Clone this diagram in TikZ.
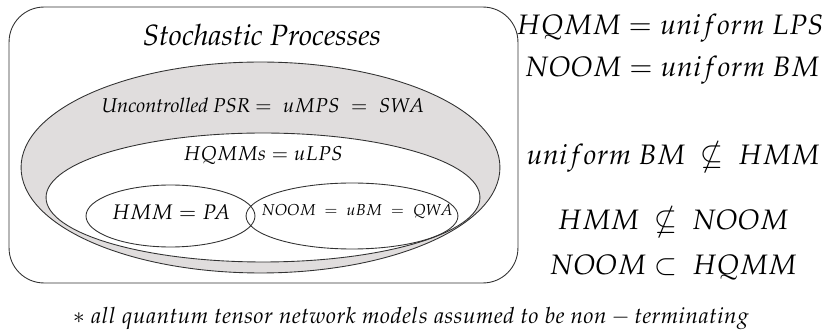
\documentclass[tikz,border=0pt]{standalone}
\usepackage[T1]{fontenc}
\usepackage{amsmath}
\usepackage{amssymb}
\usepackage{mathpazo}
\usepackage{tikz}
\usetikzlibrary{shapes,positioning}
\definecolor{setgray}{RGB}{224,221,221}
\definecolor{setline}{RGB}{50,50,50}
\newcommand{\relsize}{\fontsize{16}{19}\selectfont}
\newcommand{\setsize}{\fontsize{11.4}{14}\selectfont}

\begin{document}
\begin{tikzpicture}[x=0.02cm,y=-0.02cm,inner sep=0pt,line width=0.5pt]
	\useasboundingbox (0,0) rectangle (823,334);
	\node[draw=setline,rounded corners=0.7cm,minimum width=10.18cm,minimum height=5.52cm]	(stoch) at (263.5,145) {};
	\node[font=\fontsize{16.7}{20}\selectfont]	(stochlab) at (262,35) {\textit{Stochastic Processes}};
	\node[ellipse,draw=setline,fill=setgray,minimum width=9.58cm,minimum height=4.22cm]	(psr) at (260.5,167.5) {};
	\node[font=\setsize]	(psrlab) at (263,105) {\textit{Uncontrolled PSR} $=\;uMPS\;=\;SWA$};
	\node[ellipse,draw=setline,fill=white,minimum width=8.68cm,minimum height=2.58cm]	(hqmm) at (263,197.5) {};
	\node[font=\setsize]	(hqmmlab) at (263,155) {$HQMMs = uLPS$};
	\node[ellipse,draw=setline,minimum width=3.38cm,minimum height=1.24cm]	(hmm) at (170.5,216) {};
	\node[ellipse,draw=setline,minimum width=4.24cm,minimum height=1.32cm]	(noom) at (352,216) {};
	\node[font=\large]	(hmmlab) at (171,212) {$HMM = PA$};
	\node[font=\small]	(noomlab) at (357,212) {$NOOM\;=\;uBM\;=\;QWA$};
	% relations on the right
	\node[font=\relsize]	(eqa) at (670,28) {$HQMM = uniform\ LPS$};
	\node[font=\relsize]	(eqb) at (672,70) {$NOOM = uniform\ BM$};
	\node[font=\relsize]	(nsa) at (673,157) {$uniform\ BM\ \nsubseteq\ HMM$};
	\node[font=\relsize]	(nsb) at (673,222) {$HMM\ \nsubseteq\ NOOM$};
	\node[font=\relsize]	(sub) at (673,267) {$NOOM \subset\ HQMM$};
	\node[font=\fontsize{12.7}{15}\selectfont]	(note) at (411,318) {$*\ all\ quantum\ tensor\ network\ models\ assumed\ to\ be\ non-terminating$};
\end{tikzpicture}
\end{document}
